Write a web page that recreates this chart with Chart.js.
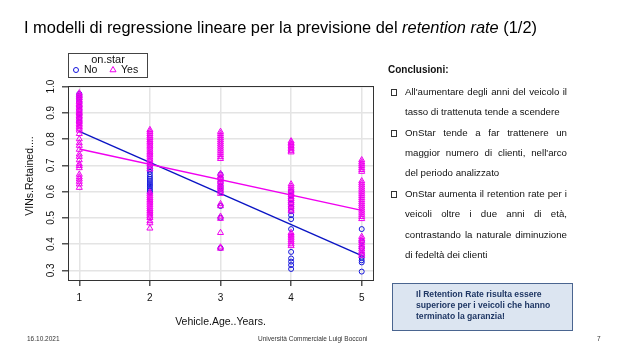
<!DOCTYPE html>
<html>
<head>
<meta charset="utf-8">
<script src="https://cdn.jsdelivr.net/npm/chart.js@4.4.0/dist/chart.umd.min.js"></script>
<style>
  body { margin: 0; background: #fff; }
  #slide { position: relative; width: 626px; height: 352px; overflow: hidden;
           font-family: Arial, "Liberation Sans", sans-serif; color: #111; }
  canvas { position: absolute; left: 0; top: 0; }
  .t { position: absolute; white-space: nowrap; }
  .title { left: 24px; top: 18px; font-size: 16.4px; line-height: 18px; color: #000; }
  .concl { left: 388px; top: 63px; font-size: 10px; font-weight: bold; line-height: 14px; }
  .ln { position: absolute; left: 405px; width: 162px; font-size: 9.7px; line-height: 14px; white-space: nowrap; }
  .j { text-align: justify; text-align-last: justify; }
  .bul { position: absolute; left: 391px; width: 4px; height: 5px; border: 1px solid #333; }
  .box { position: absolute; left: 392px; top: 283px; width: 179px; height: 46px;
         background: #dce5f1; border: 1px solid #4a6590; }
  .boxtxt { left: 416px; top: 289px; font-size: 8.6px; font-weight: bold; line-height: 11px; color: #1f3764; }
  .foot { font-size: 6.5px; color: #333; top: 335px; line-height: 8px; }
</style>
</head>
<body>
<div id="slide">
  <canvas id="c" width="626" height="352"></canvas>
  <div class="t title">I modelli di regressione lineare per la previsione del <i>retention rate</i> (1/2)</div>

  <div class="t concl">Conclusioni:</div>
  <div class="bul" style="top:89px"></div>
  <div class="ln j" style="top:85px">All'aumentare degli anni del veicolo il</div>
  <div class="ln" style="top:105px">tasso di trattenuta tende a scendere</div>
  <div class="bul" style="top:130px"></div>
  <div class="ln j" style="top:126px">OnStar tende a far trattenere un</div>
  <div class="ln j" style="top:146px">maggior numero di clienti, nell'arco</div>
  <div class="ln" style="top:166px">del periodo analizzato</div>
  <div class="bul" style="top:191px"></div>
  <div class="ln j" style="top:187px">OnStar aumenta il retention rate per i</div>
  <div class="ln j" style="top:207px">veicoli oltre i due anni di età,</div>
  <div class="ln j" style="top:228px">contrastando la naturale diminuzione</div>
  <div class="ln" style="top:248px">di fedeltà dei clienti</div>

  <div class="box"></div>
  <div class="t boxtxt">Il Retention Rate risulta essere<br>superiore per i veicoli che hanno<br>terminato la garanzia!</div>

  <div class="t foot" style="left:27px">16.10.2021</div>
  <div class="t foot" style="left:258px">Università Commerciale Luigi Bocconi</div>
  <div class="t foot" style="left:597px">7</div>
</div>

<script>
// categories / ticks
const ages = [1, 2, 3, 4, 5];
const yTicks = [0.3, 0.4, 0.5, 0.6, 0.7, 0.8, 0.9, 1.0];

// on.star = No (VINs.Retained per vehicle age)
const noAge1 = [0.972, 0.965, 0.958, 0.95, 0.94, 0.925, 0.91, 0.895, 0.88, 0.865];
const noAge2 = [0.705, 0.695, 0.685, 0.675, 0.665, 0.656, 0.648, 0.64, 0.632, 0.625, 0.618, 0.61, 0.603, 0.596];
const noAge3 = [0.665, 0.65, 0.635, 0.62, 0.61, 0.598, 0.545, 0.5, 0.385];
const noAge4 = [0.6, 0.585, 0.57, 0.555, 0.54, 0.525, 0.51, 0.495, 0.457, 0.37, 0.345, 0.333, 0.32, 0.305];
const noAge5 = [0.457, 0.41, 0.385, 0.36, 0.348, 0.338, 0.33, 0.295];

// on.star = Yes
const yesAge1 = [0.975, 0.968, 0.962, 0.955, 0.948, 0.942, 0.935, 0.93, 0.924, 0.918, 0.912, 0.905, 0.9, 0.894,
  0.888, 0.882, 0.875, 0.87, 0.864, 0.858, 0.852, 0.846, 0.84, 0.833, 0.82, 0.8, 0.785, 0.775, 0.76, 0.742,
  0.733, 0.72, 0.705, 0.698, 0.69, 0.665, 0.655, 0.647, 0.638, 0.628, 0.615];
const yesAge2 = [0.835, 0.828, 0.82, 0.812, 0.805, 0.797, 0.79, 0.783, 0.775, 0.768, 0.76, 0.752, 0.745, 0.738,
  0.73, 0.722, 0.715, 0.705, 0.695, 0.685, 0.597, 0.59, 0.583, 0.576, 0.569, 0.562, 0.555, 0.548, 0.541,
  0.534, 0.527, 0.52, 0.513, 0.506, 0.5, 0.488, 0.48, 0.46];
const yesAge3 = [0.828, 0.82, 0.812, 0.804, 0.796, 0.788, 0.78, 0.772, 0.764, 0.756, 0.748, 0.74, 0.732, 0.725,
  0.668, 0.66, 0.652, 0.645, 0.637, 0.63, 0.622, 0.615, 0.608, 0.6, 0.592, 0.553, 0.545, 0.505, 0.497,
  0.443, 0.388, 0.383];
const yesAge4 = [0.792, 0.786, 0.78, 0.774, 0.768, 0.762, 0.756, 0.75, 0.628, 0.62, 0.612, 0.604, 0.596, 0.588,
  0.58, 0.572, 0.564, 0.556, 0.548, 0.54, 0.532, 0.525, 0.443, 0.436, 0.429, 0.422, 0.415, 0.408, 0.4, 0.393];
const yesAge5 = [0.72, 0.712, 0.705, 0.698, 0.69, 0.683, 0.676, 0.64, 0.632, 0.624, 0.616, 0.608, 0.6, 0.592,
  0.584, 0.576, 0.568, 0.56, 0.552, 0.544, 0.536, 0.528, 0.52, 0.512, 0.504, 0.496, 0.428, 0.42, 0.412,
  0.404, 0.396, 0.388, 0.38, 0.372, 0.364, 0.356];

// regression lines (fitted values at age 1 and age 5)
const fitAges = [1, 5];
const noFit = [0.829, 0.356];
const yesFit = [0.762, 0.528];

const BLUE = '#1414dc';
const BLUE_LINE = '#0a14c4';
const MAGENTA = '#f000f0';
const FONT = 'Arial, "Liberation Sans", sans-serif';

const toPoints = (groups) => groups.flatMap((vals, i) => vals.map(v => ({ x: ages[i], y: v })));
const noPoints = toPoints([noAge1, noAge2, noAge3, noAge4, noAge5]);
const yesPoints = toPoints([yesAge1, yesAge2, yesAge3, yesAge4, yesAge5]);

// frame, tick labels, axis titles and the lattice-style key
const latticeBits = {
  id: 'latticeBits',
  afterDraw(chart) {
    const { ctx, chartArea: a, scales: { x, y } } = chart;
    ctx.save();
    ctx.strokeStyle = '#333';
    ctx.lineWidth = 1;
    ctx.strokeRect(Math.round(a.left) + 0.5, Math.round(a.top) + 0.5,
      Math.round(a.right - a.left), Math.round(a.bottom - a.top));

    ctx.fillStyle = '#111';
    ctx.font = '10px ' + FONT;
    ctx.textAlign = 'center';
    ctx.textBaseline = 'middle';
    x.ticks.forEach(t => ctx.fillText(String(t.value), x.getPixelForValue(t.value), a.bottom + 18));
    y.ticks.forEach(t => {
      ctx.save();
      ctx.translate(a.left - 17, y.getPixelForValue(t.value));
      ctx.rotate(-Math.PI / 2);
      ctx.fillText(t.value.toFixed(1), 0, 0);
      ctx.restore();
    });

    // axis titles
    ctx.font = '10.5px ' + FONT;
    ctx.fillText('Vehicle.Age..Years.', (a.left + a.right) / 2, 322);
    ctx.save();
    ctx.translate(30, 176);
    ctx.rotate(-Math.PI / 2);
    ctx.fillText('VINs.Retained....', 0, 0);
    ctx.restore();

    // key
    ctx.strokeStyle = '#444';
    ctx.strokeRect(68.5, 53.5, 79, 24);
    ctx.font = '11px ' + FONT;
    ctx.fillText('on.star', 108, 60);
    ctx.font = '10.5px ' + FONT;
    ctx.textAlign = 'left';
    ctx.fillText('No', 84, 70.5);
    ctx.fillText('Yes', 121, 70.5);
    ctx.lineWidth = 1;
    ctx.fillStyle = 'rgba(0,0,0,0)';
    ctx.strokeStyle = BLUE;
    Chart.helpers.drawPoint(ctx, { pointStyle: 'circle', radius: 2.5, rotation: 0, borderWidth: 1 }, 76, 70);
    ctx.strokeStyle = MAGENTA;
    Chart.helpers.drawPoint(ctx, { pointStyle: 'triangle', radius: 3.5, rotation: 0, borderWidth: 1 }, 113, 70);
    ctx.restore();
  }
};

new Chart(document.getElementById('c'), {
  type: 'scatter',
  data: {
    datasets: [
      { label: 'No', data: noPoints, pointStyle: 'circle', pointRadius: 2.5, borderWidth: 1,
        borderColor: BLUE, backgroundColor: 'transparent', order: 4 },
      { label: 'No fit', type: 'line', data: fitAges.map((a, i) => ({ x: a, y: noFit[i] })),
        borderColor: BLUE_LINE, borderWidth: 1.4, pointRadius: 0, fill: false, order: 3 },
      { label: 'Yes', data: yesPoints, pointStyle: 'triangle', pointRadius: 3.5, borderWidth: 1,
        borderColor: MAGENTA, backgroundColor: 'transparent', order: 2 },
      { label: 'Yes fit', type: 'line', data: fitAges.map((a, i) => ({ x: a, y: yesFit[i] })),
        borderColor: MAGENTA, borderWidth: 1.4, pointRadius: 0, fill: false, order: 1 }
    ]
  },
  options: {
    responsive: false,
    animation: false,
    events: [],
    layout: { padding: { left: 28, top: 86, right: 253, bottom: 32 } },
    plugins: { legend: { display: false }, tooltip: { enabled: false } },
    scales: {
      x: {
        type: 'linear', min: 0.84, max: 5.16,
        afterBuildTicks: s => { s.ticks = ages.map(v => ({ value: v })); },
        afterFit: s => { s.height = 40; },
        grid: { color: '#e4e4e4', lineWidth: 1.5, tickColor: '#555', tickLength: 6 },
        border: { display: false },
        ticks: { display: false }
      },
      y: {
        min: 0.263, max: 1.002,
        afterBuildTicks: s => { s.ticks = yTicks.map(v => ({ value: v })); },
        afterFit: s => { s.width = 40; },
        grid: { color: '#e4e4e4', lineWidth: 1.5, tickColor: '#555', tickLength: 6 },
        border: { display: false },
        ticks: { display: false }
      }
    }
  },
  plugins: [latticeBits]
});
</script>
</body>
</html>
